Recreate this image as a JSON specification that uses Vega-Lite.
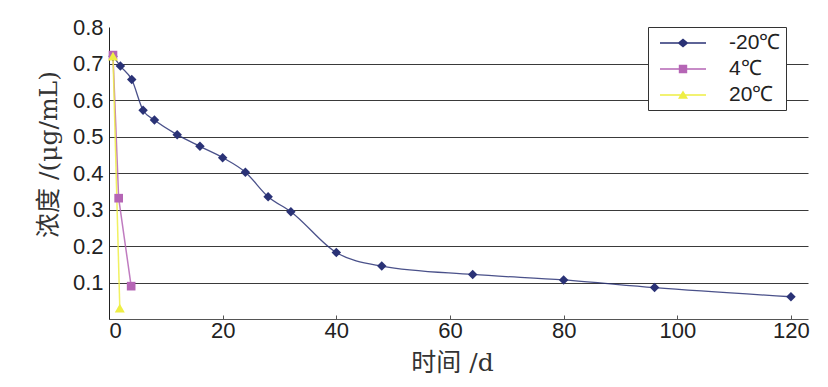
{
  "$schema": "https://vega.github.io/schema/vega-lite/v6.json",
  "width": 699,
  "height": 292,
  "autosize": "none",
  "padding": {"left": 109, "top": 27, "right": 20, "bottom": 68},
  "background": "white",
  "config": {
    "view": {"stroke": null},
    "axis": {"labelFont": "Liberation Sans", "labelFontSize": 22, "labelColor": "#222", "titleFont": "DejaVu Serif, Noto Sans CJK SC", "titleFontSize": 25, "titleFontWeight": "normal", "titleColor": "#333"}
  },
  "data": {
    "values": [
      {"day": 0.7, "c": 0.72, "t": "-20℃"},
      {"day": 2, "c": 0.693, "t": "-20℃"},
      {"day": 4, "c": 0.656, "t": "-20℃"},
      {"day": 6, "c": 0.572, "t": "-20℃"},
      {"day": 8, "c": 0.545, "t": "-20℃"},
      {"day": 12, "c": 0.505, "t": "-20℃"},
      {"day": 16, "c": 0.473, "t": "-20℃"},
      {"day": 20, "c": 0.442, "t": "-20℃"},
      {"day": 24, "c": 0.402, "t": "-20℃"},
      {"day": 28, "c": 0.335, "t": "-20℃"},
      {"day": 32, "c": 0.294, "t": "-20℃"},
      {"day": 40, "c": 0.182, "t": "-20℃"},
      {"day": 48, "c": 0.145, "t": "-20℃"},
      {"day": 64, "c": 0.122, "t": "-20℃"},
      {"day": 80, "c": 0.107, "t": "-20℃"},
      {"day": 96, "c": 0.086, "t": "-20℃"},
      {"day": 120, "c": 0.061, "t": "-20℃"},
      {"day": 0.7, "c": 0.723, "t": "4℃"},
      {"day": 1.7, "c": 0.331, "t": "4℃"},
      {"day": 3.9, "c": 0.09, "t": "4℃"},
      {"day": 0.7, "c": 0.72, "t": "20℃"},
      {"day": 1.9, "c": 0.03, "t": "20℃"}
    ]
  },
  "resolve": {"legend": {"color": "independent", "shape": "independent"}},
  "encoding": {
    "x": {"field": "day", "type": "quantitative", "scale": {"domain": [0, 123], "nice": false, "zero": false},
      "axis": {"values": [0, 20, 40, 60, 80, 100, 120], "grid": false, "domainColor": "#555", "tickColor": "#555", "tickSize": -4, "labelPadding": 5, "title": "时间 /d", "titleBaseline": "middle", "titleX": 343, "titleY": 43}},
    "y": {"field": "c", "type": "quantitative", "scale": {"domain": [0, 0.8], "nice": false},
      "axis": {"values": [0.1, 0.2, 0.3, 0.4, 0.5, 0.6, 0.7, 0.8], "format": ".1f", "ticks": false, "labelPadding": 6, "domainColor": "#222", "grid": true, "gridColor": "#3a3a3a", "gridOpacity": {"condition": {"test": "datum.value >= 0.79", "value": 0}, "value": 1}, "title": "浓度 /(μg/mL)", "titleBaseline": "middle", "titleX": -61, "titleY": 127}},
    "color": {"field": "t", "type": "nominal", "scale": {"domain": ["-20℃", "4℃", "20℃"], "range": ["#2a3276", "#b565b5", "#eeee44"]}, "legend": null}
  },
  "layer": [
    {
      "transform": [{"filter": "datum.t === 'none'"}],
      "mark": {"type": "point", "filled": true, "opacity": 1, "size": 400},
      "encoding": {
        "color": {"field": "t", "type": "nominal",
          "legend": {
            "title": null, "orient": "none", "legendX": 539, "legendY": 0, "fillColor": "white", "strokeColor": "#333",
            "padding": 5, "symbolSize": 400, "symbolOpacity": 1, "symbolOffset": 19, "labelOffset": 35, "rowPadding": 5,
            "labelFont": "Liberation Sans", "labelFontSize": 21, "labelColor": "#222", "labelLimit": 200
          }},
        "shape": {"field": "t", "type": "nominal",
          "scale": {"domain": ["-20℃", "4℃", "20℃"], "range": [
            "M-2.3,-0.07H2.3V0.07H-2.3Z M-0.55,0L0,-0.45L0.55,0L0,0.45Z",
            "M-2.3,-0.07H2.3V0.07H-2.3Z M-0.42,-0.42H0.42V0.42H-0.42Z",
            "M-2.3,-0.07H2.3V0.07H-2.3Z M0,-0.45L0.5,0.38H-0.5Z"]},
          "legend": {
            "title": null, "orient": "none", "legendX": 539, "legendY": 0, "fillColor": "white", "strokeColor": "#333",
            "padding": 5, "symbolSize": 400, "symbolOpacity": 1, "symbolOffset": 19, "labelOffset": 35, "rowPadding": 5,
            "labelFont": "Liberation Sans", "labelFontSize": 21, "labelColor": "#222", "labelLimit": 200
          }}
      }
    },
    {
      "transform": [{"filter": "datum.t === '-20℃'"}],
      "mark": {"type": "line", "interpolate": "monotone", "strokeWidth": 1.3, "opacity": 0.85}
    },
    {
      "transform": [{"filter": "datum.t !== '-20℃'"}],
      "mark": {"type": "line", "strokeWidth": 1.5, "opacity": 0.85}
    },
    {
      "transform": [{"filter": "datum.t === '-20℃'"}],
      "mark": {"type": "point", "filled": true, "opacity": 1, "shape": "diamond", "size": 90}
    },
    {
      "transform": [{"filter": "datum.t === '4℃'"}],
      "mark": {"type": "point", "filled": true, "opacity": 1, "shape": "square", "size": 75}
    },
    {
      "transform": [{"filter": "datum.t === '20℃'"}],
      "mark": {"type": "point", "filled": true, "opacity": 1, "shape": "triangle-up", "size": 100}
    }
  ]
}
